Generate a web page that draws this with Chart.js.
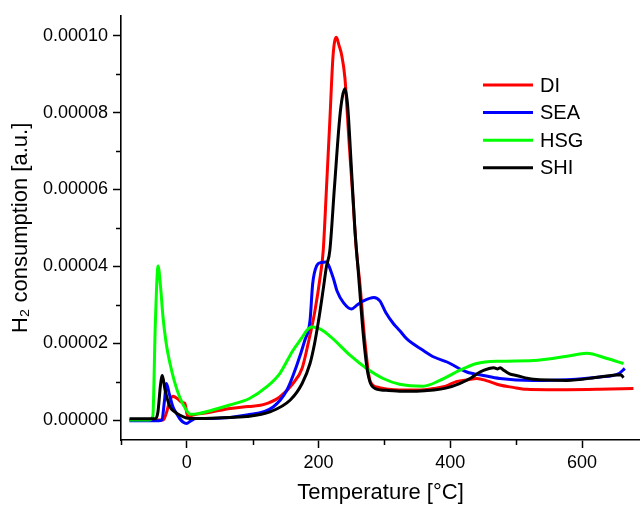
<!DOCTYPE html>
<html>
<head>
<meta charset="utf-8">
<script src="https://cdn.jsdelivr.net/npm/chart.js@4.4.1/dist/chart.umd.min.js"></script>
<style>
  html, body { margin: 0; padding: 0; background: #fff; }
  #wrap { width: 640px; height: 506px; }
</style>
</head>
<body>
<div id="wrap"><canvas id="chart" width="640" height="506"></canvas></div>
<script>
// temperature in °C, H2 consumption in units of 1e-5 a.u.
const diT = [-87, -43, -36, -30, -26, -21, -14, -7, -3, 1, 5, 9, 35, 66, 93, 116, 141, 161, 175, 184, 194, 203, 207, 212, 217, 222, 227, 231, 235, 240, 246, 252, 257, 263, 270, 278, 288, 306, 323, 349, 375, 393, 409, 427, 440, 456, 475, 495, 516, 548, 577, 626, 678];
const diY = [0, 0, 0, 0.25, 0.5, 0.62, 0.55, 0.45, 0.43, 0.1, 0.1, 0.13, 0.2, 0.3, 0.35, 0.4, 0.6, 0.95, 1.35, 1.98, 2.8, 3.8, 4.4, 6.04, 7.76, 9.49, 9.96, 9.75, 9.5, 8.9, 7.3, 5.8, 4.5, 3.5, 2.1, 1.03, 0.86, 0.8, 0.78, 0.78, 0.82, 0.88, 1.0, 1.05, 1.08, 1.02, 0.91, 0.85, 0.8, 0.79, 0.79, 0.8, 0.82];

const seaT = [-87, -43, -38, -34, -31, -27, -21, -16, -11, -6, -0.4, 5.4, 14, 39, 91, 131, 152, 166, 179, 187, 191, 197, 204, 211, 222, 228, 238, 250, 259, 268, 284, 293, 302, 314, 323, 334, 359, 375, 395, 425, 450, 475, 526, 577, 627, 655, 665];
const seaY = [-0.02, -0.02, 0, 0.5, 0.95, 0.7, 0.34, 0.18, 0.04, -0.05, -0.09, -0.03, 0.04, 0.04, 0.13, 0.34, 0.78, 1.38, 2.07, 2.59, 3.54, 4.01, 4.1, 4.11, 3.71, 3.36, 3.05, 2.89, 3.0, 3.1, 3.19, 3.1, 2.8, 2.5, 2.33, 2.11, 1.81, 1.64, 1.51, 1.25, 1.16, 1.08, 1.03, 1.05, 1.12, 1.2, 1.34];

const hsgT = [-87, -57.5, -51.7, -47.9, -43.7, -40.1, -36.2, -31.4, -25.6, -18.8, -11, -2.3, 5.4, 15, 39, 65, 95, 121, 141, 161, 175, 182, 189.5, 197, 209, 222, 248, 273, 298, 323, 359, 384, 414, 440, 475, 526, 577, 607, 638, 663];
const hsgY = [0, 0, 0.1, 2.5, 4.01, 3.5, 2.67, 2.0, 1.47, 1.0, 0.6, 0.3, 0.15, 0.16, 0.26, 0.39, 0.56, 0.86, 1.21, 1.81, 2.15, 2.33, 2.42, 2.41, 2.3, 2.11, 1.68, 1.34, 1.08, 0.93, 0.88, 1.03, 1.29, 1.47, 1.53, 1.55, 1.66, 1.74, 1.6, 1.47];

const shiT = [-87, -47.9, -44, -40.1, -37.2, -33.3, -25.6, -18.8, -11, 4.5, 14, 54, 91, 126, 157, 175, 187, 194, 201, 207, 212, 217, 224, 232, 236, 240, 244, 250, 255, 261, 268, 275, 286, 306, 323, 349, 375, 393, 414, 432, 445, 459, 466, 472, 476, 480, 490, 500, 526, 577, 627, 659, 663];
const shiY = [0.03, 0.03, 0.2, 0.9, 1.16, 0.8, 0.34, 0.22, 0.13, 0.04, 0.04, 0.06, 0.09, 0.21, 0.52, 0.95, 1.47, 2.0, 2.7, 3.4, 4.0, 4.4, 6.04, 7.85, 8.4, 8.62, 8.2, 6.5, 5.0, 3.7, 2.2, 1.2, 0.82, 0.77, 0.75, 0.75, 0.78, 0.83, 0.95, 1.1, 1.25, 1.34, 1.36, 1.33, 1.36, 1.31, 1.2, 1.16, 1.06, 1.03, 1.12, 1.18, 1.1];

const seriesLabels = ['DI', 'SEA', 'HSG', 'SHI'];
const seriesColors = ['#ff0000', '#0000ff', '#00ff00', '#000000'];
const xMajor = [0, 200, 400, 600];
const xMinor = [-100, 100, 300, 500];
const yMajor = [0, 2, 4, 6, 8, 10];
const yMinor = [1, 3, 5, 7, 9];

const FONT = "'Liberation Sans', Arial, sans-serif";

function pts(t, y) {
  return t.map((v, i) => ({ x: v, y: y[i] }));
}

const series = [pts(diT, diY), pts(seaT, seaY), pts(hsgT, hsgY), pts(shiT, shiY)];

// minor ticks + legend in the top right
const extras = {
  id: 'extras',
  afterDraw(chart) {
    const { ctx, scales: { x, y } } = chart;
    ctx.save();
    ctx.strokeStyle = '#000';
    ctx.lineWidth = 1.5;
    ctx.beginPath();
    xMinor.forEach(v => {
      const px = Math.round(x.getPixelForValue(v)) + 0.5;
      ctx.moveTo(px, x.top);
      ctx.lineTo(px, x.top + 5);
    });
    yMinor.forEach(v => {
      const py = Math.round(y.getPixelForValue(v)) + 0.5;
      ctx.moveTo(y.right, py);
      ctx.lineTo(y.right - 5, py);
    });
    ctx.stroke();

    ctx.font = '20px ' + FONT;
    ctx.textBaseline = 'middle';
    ctx.fillStyle = '#000';
    seriesLabels.forEach((lab, i) => {
      const yy = 85 + i * 27.6;
      ctx.strokeStyle = seriesColors[i];
      ctx.lineWidth = 3;
      ctx.beginPath();
      ctx.moveTo(483, yy);
      ctx.lineTo(533, yy);
      ctx.stroke();
      ctx.fillText(lab, 540, yy + 1);
    });
    ctx.restore();
  }
};

const ctx = document.getElementById('chart').getContext('2d');

const chart = new Chart(ctx, {
  type: 'line',
  data: {
    datasets: seriesLabels.map((lab, i) => ({
      label: lab,
      data: series[i],
      borderColor: seriesColors[i],
      borderWidth: 3,
      pointRadius: 0,
      cubicInterpolationMode: 'monotone',
      fill: false,
      order: 3 - i
    }))
  },
  options: {
    responsive: false,
    animation: false,
    devicePixelRatio: 1,
    layout: { padding: { top: 13, right: 0, bottom: 0, left: 0 } },
    plugins: {
      legend: { display: false },
      tooltip: { enabled: false }
    },
    scales: {
      x: {
        type: 'linear',
        min: -100,
        max: 688,
        afterFit: s => { s.height = 66; },
        ticks: {
          stepSize: 100,
          includeBounds: false,
          autoSkip: false,
          maxRotation: 0,
          padding: 4,
          color: '#000',
          font: { family: FONT, size: 18 },
          callback: v => xMajor.includes(v) ? String(v) : ''
        },
        grid: {
          drawOnChartArea: false,
          drawTicks: true,
          tickLength: 8,
          tickWidth: 1.5,
          tickColor: c => (c.tick && xMajor.includes(c.tick.value)) ? '#000' : 'rgba(0,0,0,0)'
        },
        border: { display: true, color: '#000', width: 1.6 },
        title: {
          display: true,
          text: 'Temperature [°C]',
          color: '#000',
          font: { family: FONT, size: 22 },
          padding: { top: 0, bottom: 0 }
        }
      },
      y: {
        type: 'linear',
        min: -0.52,
        max: 10.52,
        afterFit: s => { s.width = 121; },
        ticks: {
          stepSize: 1,
          includeBounds: false,
          autoSkip: false,
          padding: 5,
          color: '#000',
          font: { family: FONT, size: 18 },
          callback: v => yMajor.includes(v) ? (v / 100000).toFixed(5) : ''
        },
        grid: {
          drawOnChartArea: false,
          drawTicks: true,
          tickLength: 8,
          tickWidth: 1.5,
          tickColor: c => (c.tick && yMajor.includes(c.tick.value)) ? '#000' : 'rgba(0,0,0,0)'
        },
        border: { display: true, color: '#000', width: 1.6 },
        title: {
          display: true,
          text: 'H₂ consumption [a.u.]',
          color: '#000',
          font: { family: FONT, size: 22 },
          padding: { top: 8, bottom: 0 }
        }
      }
    }
  },
  plugins: [extras]
});
</script>
</body>
</html>
